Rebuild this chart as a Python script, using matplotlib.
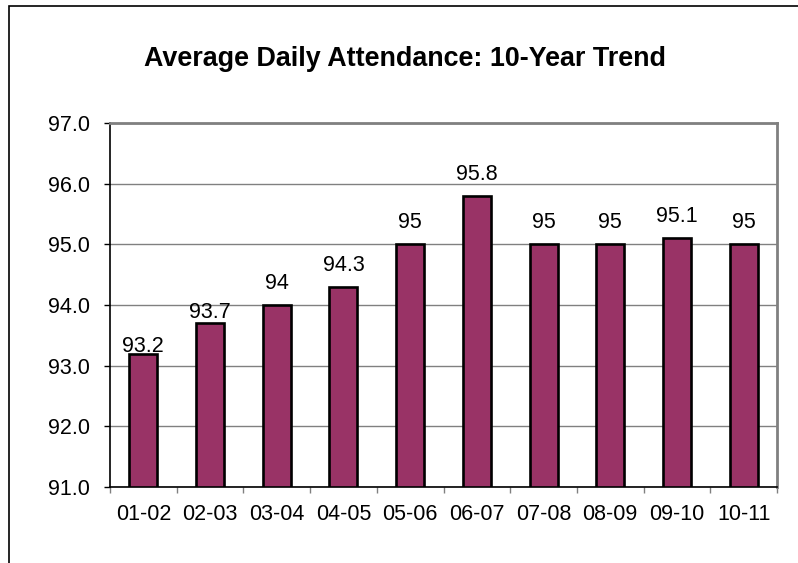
import matplotlib
matplotlib.use("Agg")
import matplotlib.pyplot as plt
from matplotlib.patches import Rectangle

categories = ["01-02", "02-03", "03-04", "04-05", "05-06", "06-07", "07-08", "08-09", "09-10", "10-11"]
values = [93.2, 93.7, 94.0, 94.3, 95.0, 95.8, 95.0, 95.0, 95.1, 95.0]
labels = ["93.2", "93.7", "94", "94.3", "95", "95.8", "95", "95", "95.1", "95"]
yticks = [91.0, 92.0, 93.0, 94.0, 95.0, 96.0, 97.0]

# label offsets above bar tops (points)
label_offsets = [0.8, 3.6, 11.5, 11.5, 11.5, 11.5, 11.5, 11.5, 11.5, 11.5]

plt.rcParams['font.family'] = ['Liberation Sans', 'DejaVu Sans']

W, H = 798, 563
fig = plt.figure(figsize=(W/100, H/100), dpi=100)
fig.patches.append(Rectangle((9/W, -0.1), 1.2, 1 - 6/H + 0.1, transform=fig.transFigure,
                             fill=False, edgecolor='black', linewidth=1.2))

left, right, top, bottom = 110, 777, 123, 487
ax = fig.add_axes([left/W, 1 - bottom/H, (right-left)/W, (bottom-top)/H])

x = list(range(len(categories)))
ax.bar(x, [v - 91.0 for v in values], bottom=91.0, width=0.42, color='#993366',
       edgecolor='black', linewidth=1.9, zorder=3)
for xi, v, lab, off in zip(x, values, labels, label_offsets):
    ax.annotate(lab, (xi, v), xytext=(0, off), textcoords='offset points',
                ha='center', va='baseline', fontsize=15.5)

ax.set_ylim(91, 97)
ax.set_xlim(-0.5, len(categories) - 0.5)
ax.set_yticks(yticks)
ax.set_yticklabels([f"{t:.1f}" for t in yticks], fontsize=15.5)
ax.yaxis.grid(True, color='#808080', linewidth=1.0, zorder=0)
ax.set_axisbelow(True)

ax.set_xticks([i - 0.5 for i in range(len(categories) + 1)])
ax.set_xticklabels([])
ax.set_xticks(x, minor=True)
ax.set_xticklabels(categories, minor=True, fontsize=15.5)
ax.tick_params(axis='x', which='minor', length=0, pad=12.3)
ax.tick_params(axis='x', which='major', length=4.3, color='#808080', width=1)
ax.tick_params(axis='y', length=4.3, width=1, pad=10)

ax.spines['top'].set_color('#808080')
ax.spines['right'].set_color('#808080')
ax.spines['top'].set_linewidth(2)
ax.spines['right'].set_linewidth(2)
ax.spines['left'].set_color('black')
ax.spines['bottom'].set_color('black')
ax.spines['left'].set_linewidth(1.2)
ax.spines['bottom'].set_linewidth(1.2)

fig.text(405/W, 1 - 59/H, "Average Daily Attendance: 10-Year Trend", ha='center', va='center',
         fontsize=19.4, fontweight='bold')

fig.savefig("out.png", dpi=100)
